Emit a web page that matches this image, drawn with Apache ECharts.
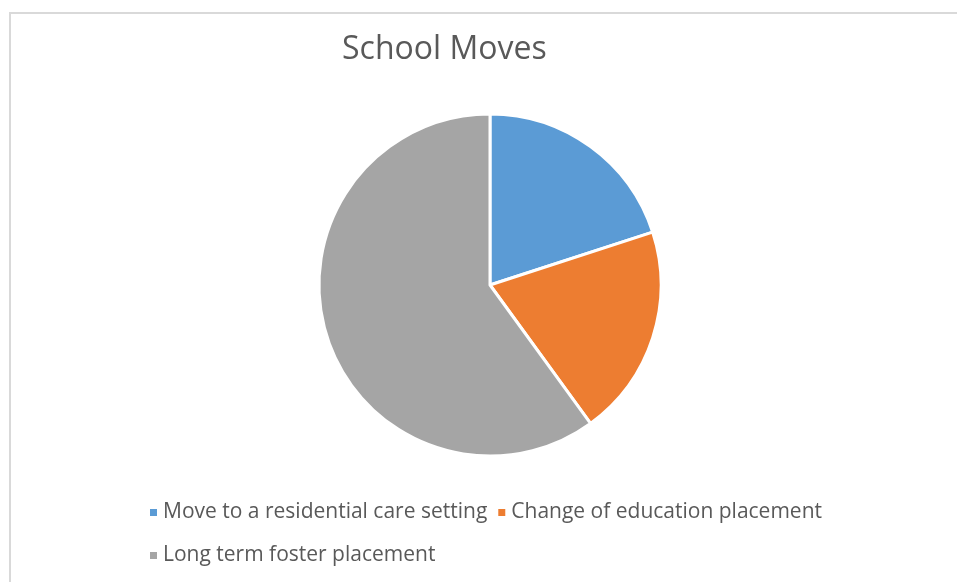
<!DOCTYPE html>
<html>
<head>
<meta charset="utf-8">
<script src="https://cdn.jsdelivr.net/npm/echarts@6/dist/echarts.min.js"></script>
<style>
  html, body { margin: 0; padding: 0; background: #fff; }
  #chart { width: 957px; height: 582px; }
</style>
</head>
<body>
<div id="chart"></div>
<script>
// School Moves pie
var categories = ['Move to a residential care setting', 'Change of education placement', 'Long term foster placement'];
var values = [1, 1, 3];
var colors = ['#5B9BD5', '#ED7D31', '#A5A5A5'];

var myChart = echarts.init(document.getElementById('chart'));

var legendText = { color: '#595959', fontSize: 21, fontFamily: 'Open Sans' };

var option = {
  animation: false,
  color: colors,
  graphic: [{
    type: 'rect',
    shape: { x: 10, y: 13, width: 1000, height: 1000 },
    style: { fill: 'none', stroke: '#d9d9d9', lineWidth: 2 },
    silent: true
  }],
  title: {
    text: 'School Moves',
    left: 337,
    top: 29,
    textStyle: { color: '#595959', fontSize: 32, fontWeight: 'normal', fontFamily: 'Open Sans' }
  },
  legend: [
    {
      data: categories.slice(0, 2),
      left: 143,
      top: 497,
      icon: 'rect',
      itemWidth: 9,
      itemHeight: 9,
      itemGap: 9,
      textStyle: legendText
    },
    {
      data: categories.slice(2),
      left: 143,
      top: 540,
      icon: 'rect',
      itemWidth: 9,
      itemHeight: 9,
      textStyle: legendText
    }
  ],
  series: [{
    type: 'pie',
    center: [490, 285],
    radius: 171,
    startAngle: 90,
    clockwise: true,
    label: { show: false },
    labelLine: { show: false },
    itemStyle: { borderColor: '#fff', borderWidth: 3 },
    emphasis: { disabled: true },
    data: categories.map(function (name, i) { return { name: name, value: values[i] }; })
  }]
};
myChart.setOption(option);
</script>
</body>
</html>
